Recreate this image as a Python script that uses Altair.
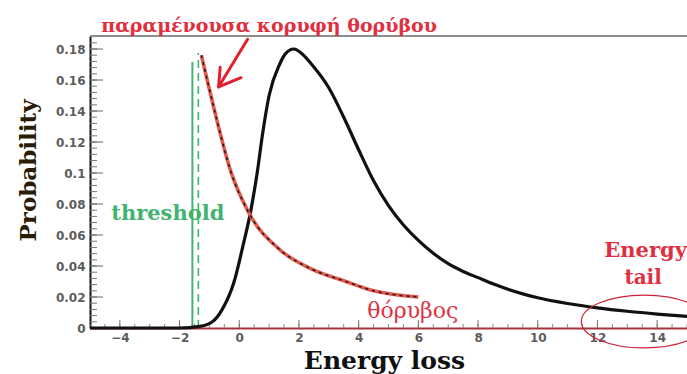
import altair as alt
import pandas as pd

# ---- data ----
energy_x = [-5, -2, -1.33, -0.9, -0.57, -0.17, 0.1, 0.4, 0.6, 0.78, 1.0, 1.35, 1.55, 1.83,
            2.1, 2.43, 3.0, 3.5, 4.0, 4.5, 5.0, 5.5, 6.0, 6.5, 7.0, 7.5, 8.0, 8.5, 9.0, 9.5,
            10.0, 11.0, 12.0, 13.0, 14.0, 15.0]
energy_p = [0, 0, 0.001, 0.004, 0.012, 0.030, 0.051, 0.077, 0.100, 0.125, 0.150, 0.170, 0.177, 0.180,
            0.177, 0.170, 0.155, 0.136, 0.115, 0.095, 0.079, 0.0665, 0.0565, 0.0482, 0.0415, 0.0365,
            0.0325, 0.0285, 0.025, 0.022, 0.0195, 0.0158, 0.0130, 0.0108, 0.0090, 0.0075]

noise_x = [-1.27, -1.0, -0.67, -0.3, 0.3, 1.33, 2.43, 3.57, 4.5, 6.0]
noise_p = [0.176, 0.154, 0.128, 0.102, 0.075, 0.051, 0.038, 0.030, 0.024, 0.020]

threshold_x = [-1.57]
threshold_top = [0.1716]
cut_x = [-1.37]
cut_top = [0.1774]

x_ticks = [-4, -2, 0, 2, 4, 6, 8, 10, 12, 14]
y_ticks = [0, 0.02, 0.04, 0.06, 0.08, 0.1, 0.12, 0.14, 0.16, 0.18]
x_minor = [round(-5 + 0.5 * i, 2) for i in range(41)]
y_minor = [round(0.004 * i, 3) for i in range(48)]

# annotation arrow (tail -> tip, and two wings)
arrow_x = [0.28, -0.64, 0.06]
arrow_y = [0.1863, 0.1682, 0.1615]
arrow_x2 = [-0.69, -0.69, -0.69]
arrow_y2 = [0.1556, 0.1556, 0.1556]

title_text = ["παραμένουσα κορυφή θορύβου"]
title_pos = ([-4.62], [0.191])
thr_text = ["threshold"]
thr_pos = ([-4.29], [0.0697])
noise_text = ["θόρυβος"]
noise_pos = ([4.29], [0.0065])
tail_text = ["Energy", "tail"]
tail_pos = ([12.23, 13.53], [0.0458, 0.0284])
ellipse_pos = ([13.57], [0.0042])

W, H = 597, 292
RED = "#e0303f"
GREEN = "#3fb36f"

xs = alt.Scale(domain=[-5, 15], nice=False, zero=False)
ys = alt.Scale(domain=[0, 0.1884], nice=False, zero=False)

xaxis = alt.Axis(values=x_ticks, format="d", ticks=False, grid=False,
                 domainColor="#a8323e", domainWidth=2,
                 labelFont="DejaVu Sans", labelFontWeight="bold", labelFontSize=12,
                 labelColor="#5c5c5c", labelPadding=4,
                 title="Energy loss", titleFont="DejaVu Serif", titleFontSize=25,
                 titleFontWeight="bold", titleColor="#111111",
                 titleX=294, titleY=40, titleBaseline="alphabetic", titleAlign="center")
yaxis = alt.Axis(values=y_ticks, format="~g", ticks=False, grid=False,
                 domainColor="#111111", domainWidth=2,
                 labelFont="DejaVu Sans", labelFontWeight="bold", labelFontSize=12,
                 labelColor="#5c5c5c", labelPadding=5,
                 title="Probability", titleFont="DejaVu Serif", titleFontSize=23,
                 titleFontWeight="bold", titleColor="#2a1e08",
                 titleX=-62, titleY=134, titleAngle=270, titleBaseline="middle", titleAlign="center")

X = alt.X("x:Q", scale=xs, axis=xaxis)
Y = alt.Y("y:Q", scale=ys, axis=yaxis)

energy_df = pd.DataFrame({"x": energy_x, "y": energy_p})
noise_df = pd.DataFrame({"x": noise_x, "y": noise_p})

black = alt.Chart(energy_df).mark_line(color="#111111", strokeWidth=3.2,
                                       interpolate="monotone").encode(x=X, y=Y)
noise_red = alt.Chart(noise_df).mark_line(color="#e5584c", strokeWidth=3.6,
                                          interpolate="monotone").encode(x=X, y=Y)
noise_dash = alt.Chart(noise_df).mark_line(color="#1a1a1a", strokeWidth=1.5, strokeDash=[3, 4],
                                           interpolate="monotone").encode(x=X, y=Y)

thr_df = pd.DataFrame({"x": threshold_x, "y": [0] * len(threshold_x), "y2": threshold_top})
cut_df = pd.DataFrame({"x": cut_x, "y": [0] * len(cut_x), "y2": cut_top})
thr_line = alt.Chart(thr_df).mark_rule(color=GREEN, strokeWidth=2).encode(x=X, y=Y, y2="y2:Q")
cut_line = alt.Chart(cut_df).mark_rule(color=GREEN, strokeWidth=1.6, strokeDash=[8, 5]).encode(
    x=X, y=Y, y2="y2:Q")

arrow_df = pd.DataFrame({"x": arrow_x, "y": arrow_y, "x2": arrow_x2, "y2": arrow_y2})
arrow = alt.Chart(arrow_df).mark_rule(color="#e0202f", strokeWidth=3, strokeCap="round").encode(
    x=X, y=Y, x2="x2:Q", y2="y2:Q")

ellipse_path = ("M -1 0 C -1 -0.232 -0.552 -0.42 0 -0.42 C 0.552 -0.42 1 -0.232 1 0 "
                "C 1 0.232 0.552 0.42 0 0.42 C -0.552 0.42 -1 0.232 -1 0 Z")
ell_df = pd.DataFrame({"x": ellipse_pos[0], "y": ellipse_pos[1]})
ellipse = alt.Chart(ell_df).mark_point(shape=ellipse_path, size=126 * 126, filled=False,
                                       color="#cc2233", strokeWidth=1.2, opacity=1).encode(x=X, y=Y)


def label(texts, pos, color, size, weight, align):
    df = pd.DataFrame({"x": pos[0], "y": pos[1], "t": texts})
    return alt.Chart(df).mark_text(font="DejaVu Serif", fontSize=size, fontWeight=weight,
                                   color=color, align=align, baseline="alphabetic").encode(
        x=X, y=Y, text="t:N")


title_lbl = label(title_text, title_pos, RED, 19, "bold", "left")
thr_lbl = label(thr_text, thr_pos, GREEN, 21, "bold", "left")
noise_lbl = label(noise_text, noise_pos, RED, 22, "normal", "left")
energy_lbl = label(tail_text[:1], ([tail_pos[0][0]], [tail_pos[1][0]]), RED, 21, "bold", "left")
tail_lbl = label(tail_text[1:], ([tail_pos[0][1]], [tail_pos[1][1]]), RED, 20, "bold", "center")

# inward axis ticks
ymaj = alt.Chart(pd.DataFrame({"y": y_ticks})).mark_rule(color="#666666", strokeWidth=1).encode(
    y=Y, x=alt.value(0), x2=alt.value(13))
ymin = alt.Chart(pd.DataFrame({"y": y_minor})).mark_rule(color="#777777", strokeWidth=1).encode(
    y=Y, x=alt.value(0), x2=alt.value(7))
xmaj = alt.Chart(pd.DataFrame({"x": x_ticks})).mark_rule(color="#8a6a6a", strokeWidth=1).encode(
    x=X, y=alt.value(H), y2=alt.value(H - 8))
xmin = alt.Chart(pd.DataFrame({"x": x_minor})).mark_rule(color="#9a8080", strokeWidth=1).encode(
    x=X, y=alt.value(H), y2=alt.value(H - 4))
frame_top = alt.Chart(pd.DataFrame({"x": [0]})).mark_rule(color="#8c8c8c", strokeWidth=2).encode(
    x=alt.value(0), x2=alt.value(W), y=alt.value(0))

chart = alt.layer(
    ymin, ymaj, xmin, xmaj, frame_top,
    thr_line, cut_line, black, noise_red, noise_dash, arrow, ellipse,
    title_lbl, thr_lbl, noise_lbl, energy_lbl, tail_lbl,
).properties(
    width=W, height=H,
    padding={"left": 90, "top": 36, "right": 0, "bottom": 46},
    autosize=alt.AutoSizeParams(type="none"),
    background="white",
).configure_view(stroke=None)

chart.save("out.html", embed_options={"renderer": "svg", "actions": False})
